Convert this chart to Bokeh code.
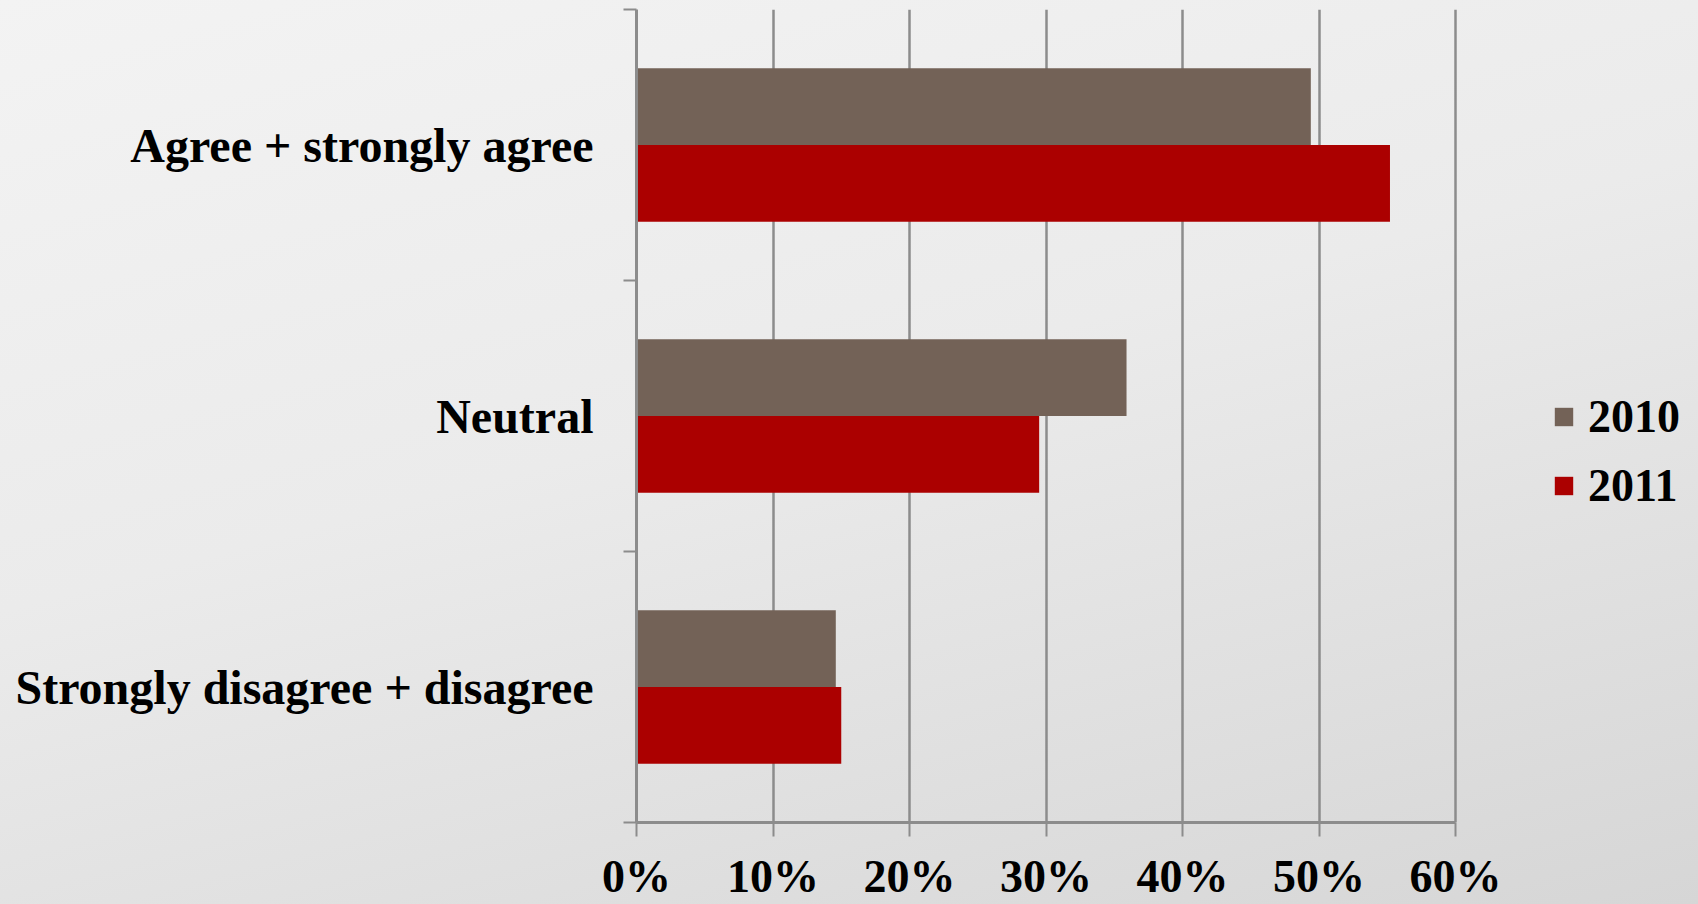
from bokeh.plotting import figure
from bokeh.models import (ColumnDataSource, FixedTicker, NumeralTickFormatter,
                          Legend, LegendItem, Range1d)
from bokeh.transform import dodge
from bokeh.embed import file_html
from bokeh.resources import INLINE

# ---- data ----
categories = ["Agree + strongly agree", "Neutral", "Strongly disagree + disagree"]
values_2010 = [0.494, 0.359, 0.146]
values_2011 = [0.552, 0.295, 0.150]
series_names = ["2010", "2011"]
x_ticks = [0.0, 0.1, 0.2, 0.3, 0.4, 0.5, 0.6]

colors = ["#736257", "#AB0000"]
FONT = "Liberation Serif"
GRAY = "#8c8c8c"

n = len(categories)
ypos = [n - 1 - i + 0.5 for i in range(n)]
src = ColumnDataSource(dict(cat=categories, y=ypos, v2010=values_2010, v2011=values_2011))

# the plotting frame reaches to the right edge so the legend can sit beside the axis
axis_max = x_ticks[-1]
FRAME_W = 1062
x_end = axis_max * FRAME_W / 819

p = figure(height=904, frame_width=FRAME_W, output_backend="svg", toolbar_location=None,
           x_range=Range1d(0, x_end), y_range=Range1d(0, n),
           min_border_left=636, min_border_right=0, min_border_top=9,
           min_border_bottom=0)
p.styles = {"margin-bottom": "-8px",
            "background": "linear-gradient(165deg, #f3f3f3 0%, #ebebeb 45%, #d6d6d6 100%)"}
p.background_fill_alpha = 0
p.border_fill_alpha = 0
p.outline_line_color = None

bar_h = 0.283
r1 = p.hbar(y=dodge("y", bar_h / 2, range=p.y_range), right="v2010", left=0, height=bar_h,
            source=src, fill_color=colors[0], line_color=None)
r2 = p.hbar(y=dodge("y", -bar_h / 2, range=p.y_range), right="v2011", left=0, height=bar_h,
            source=src, fill_color=colors[1], line_color=None)

# x axis
p.xaxis.ticker = FixedTicker(ticks=x_ticks)
p.xaxis.bounds = (0, axis_max)
p.xaxis.formatter = NumeralTickFormatter(format="0%")
p.xaxis.major_label_text_font = FONT
p.xaxis.major_label_text_font_style = "bold"
p.xaxis.major_label_text_font_size = "46px"
p.xaxis.major_label_text_color = "black"
p.xaxis.major_label_standoff = 14
p.xaxis.axis_line_color = GRAY
p.xaxis.axis_line_width = 3
p.xaxis.major_tick_line_color = GRAY
p.xaxis.major_tick_line_width = 2
p.xaxis.major_tick_out = 14
p.xaxis.major_tick_in = 0
p.xaxis.minor_tick_line_color = None

# y axis: labels at category centres, boundary ticks as minor ticks
p.yaxis.ticker = FixedTicker(ticks=ypos, minor_ticks=list(range(n + 1)))
p.yaxis.major_label_overrides = {y: c for y, c in zip(ypos, categories)}
p.yaxis.major_label_text_font = FONT
p.yaxis.major_label_text_font_style = "bold"
p.yaxis.major_label_text_font_size = "48px"
p.yaxis.major_label_text_color = "black"
p.yaxis.major_tick_out = 0
p.yaxis.major_tick_in = 0
p.yaxis.major_label_standoff = 30
p.yaxis.minor_tick_out = 13
p.yaxis.minor_tick_in = 0
p.yaxis.minor_tick_line_color = GRAY
p.yaxis.minor_tick_line_width = 2
p.yaxis.axis_line_color = GRAY
p.yaxis.axis_line_width = 3

p.xgrid.grid_line_color = GRAY
p.xgrid.grid_line_width = 2.5
p.ygrid.grid_line_color = None

legend = Legend(items=[LegendItem(label=series_names[0], renderers=[r1]),
                       LegendItem(label=series_names[1], renderers=[r2])],
                location=(916, 310), orientation="vertical")
legend.background_fill_alpha = 0
legend.border_line_color = None
legend.label_text_font = FONT
legend.label_text_font_style = "bold"
legend.label_text_font_size = "46px"
legend.label_text_color = "black"
legend.glyph_width = 23
legend.glyph_height = 23
legend.label_standoff = 13
legend.label_height = 46
legend.spacing = 16
legend.padding = 0
legend.margin = 0
p.add_layout(legend, "center")

open("out.html", "w").write(file_html(p, INLINE))
